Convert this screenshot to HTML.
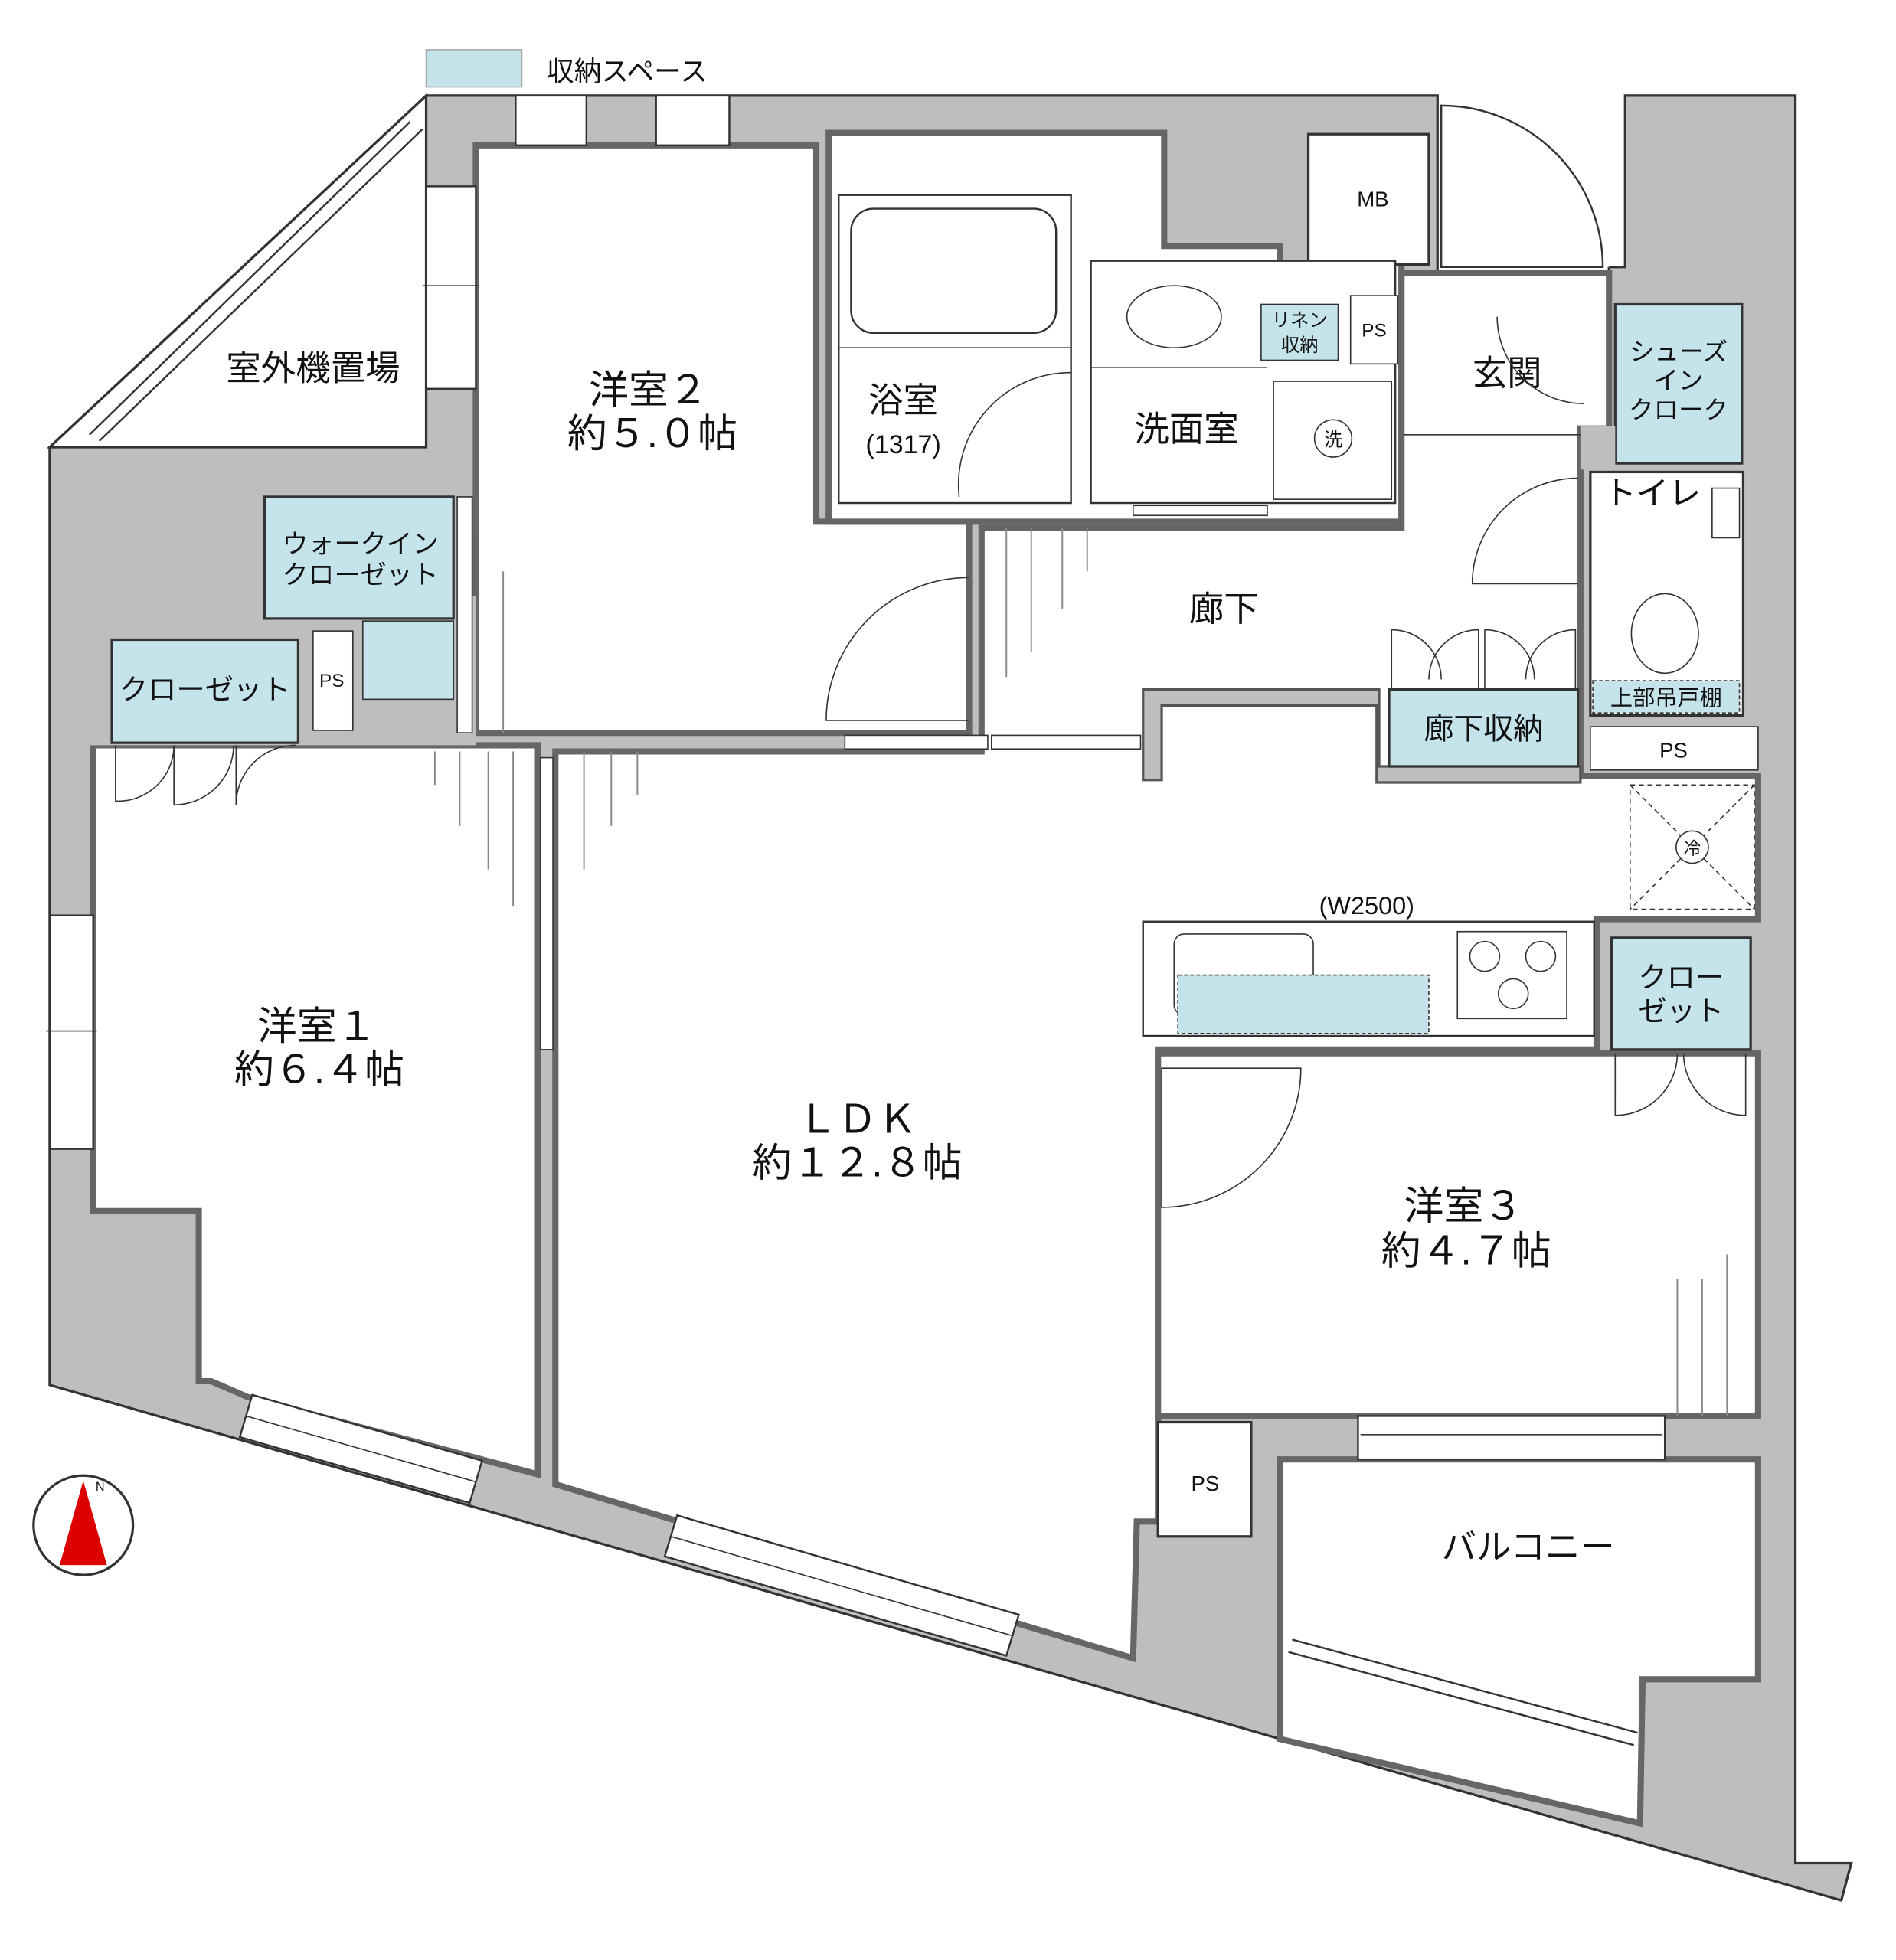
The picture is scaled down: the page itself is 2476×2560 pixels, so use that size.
<!DOCTYPE html>
<html><head><meta charset="utf-8"><style>
html,body{margin:0;padding:0;background:#fff}
svg{display:block}
text{font-family:"Liberation Sans","Noto Sans CJK JP",sans-serif;fill:#111}
</style></head><body>
<svg width="2476" height="2560" viewBox="0 0 1526 1578" preserveAspectRatio="none" xmlns="http://www.w3.org/2000/svg">
<rect width="1526" height="1578" fill="#fff"/>
<rect x="343" y="40" width="77" height="30" fill="#c5e3ea" stroke="#aaa"/>
<text x="440" y="65" font-size="22">収納スペース</text>

<polygon points="343,77 1157,77 1157,240 1295,240 1295,215 1308,215 1308,77 1445,77 1445,1500 1490,1500 1482,1530 40,1115 40,360 343,77" fill="#bebebe" stroke="#333" stroke-width="2"/>
<polygon points="40,360 343,77 343,360" fill="#fff" stroke="#333" stroke-width="2"/>
<line x1="72" y1="350" x2="330" y2="98" stroke="#333" stroke-width="1.5"/>
<line x1="80" y1="355" x2="340" y2="104" stroke="#333" stroke-width="1.5"/>
<text x="252" y="306" font-size="28" text-anchor="middle">室外機置場</text>

<g stroke="#666" stroke-width="5" fill="#fff">
<polygon points="383,117 657,117 657,420 780,420 780,590 383,590"/>
<polygon points="667,107 937,107 937,198 1030,198 1030,212 1128,212 1128,420 667,420"/>
<polygon points="790,425 1128,425 1128,220 1295,220 1295,345 1272,345 1272,625 1415,625 1415,740 1285,740 1285,845 932,845 932,1225 915,1225 912,1335 447,1195 447,605 790,605"/>
<polygon points="75,600 433,600 433,1187 200,1125 170,1112 160,1112 160,975 75,975"/>
<rect x="932" y="848" width="483" height="292"/>
<polygon points="1030,1175 1415,1175 1415,1352 1322,1352 1320,1468 1030,1400"/>
</g>
<!-- hall notch walls -->
<polygon points="920,555 1110,555 1110,617 1272,617 1272,630 1108,630 1108,568 935,568 935,628 920,628" fill="#bebebe" stroke="#555" stroke-width="2"/>
<rect x="1160" y="80" width="135" height="135" fill="#fff"/>
<rect x="1053" y="108" width="97" height="105" fill="#fff" stroke="#333" stroke-width="2"/>
<text x="1105" y="166" font-size="17" text-anchor="middle">MB</text>
<path d="M1160,215 L1160,85 A130,130 0 0 1 1290,215 Z" fill="none" stroke="#333" stroke-width="1.5"/>

<rect x="675" y="157" width="187" height="248" fill="#fff" stroke="#333" stroke-width="1.5"/>
<rect x="685" y="168" width="165" height="100" rx="18" fill="none" stroke="#333" stroke-width="1.5"/>
<line x1="675" y1="280" x2="862" y2="280" stroke="#333"/>
<path d="M862,300 A90,90 0 0 0 772,400" fill="none" stroke="#333"/>
<text x="727" y="332" font-size="28" text-anchor="middle">浴室</text>
<text x="727" y="365" font-size="21" text-anchor="middle">(1317)</text>
<rect x="878" y="210" width="245" height="195" fill="#fff" stroke="#333" stroke-width="1.5"/>
<line x1="878" y1="296" x2="1020" y2="296" stroke="#333"/>
<ellipse cx="945" cy="255" rx="38" ry="25" fill="none" stroke="#333"/>
<rect x="1015" y="245" width="62" height="45" fill="#c5e3ea" stroke="#333"/>
<text x="1046" y="263" font-size="15" text-anchor="middle">リネン</text>
<text x="1046" y="283" font-size="15" text-anchor="middle">収納</text>
<rect x="1087" y="238" width="38" height="55" fill="#fff" stroke="#333"/>
<text x="1106" y="271" font-size="15" text-anchor="middle">PS</text>
<rect x="1025" y="307" width="95" height="95" fill="#fff" stroke="#333"/>
<circle cx="1073" cy="353" r="15" fill="none" stroke="#333"/>
<text x="1073" y="359" font-size="15" text-anchor="middle">洗</text>
<text x="955" y="355" font-size="28" text-anchor="middle">洗面室</text>
<rect x="912" y="407" width="108" height="8" fill="#fff" stroke="#333"/>

<text x="1213" y="310" font-size="28" text-anchor="middle">玄関</text>
<line x1="1130" y1="350" x2="1272" y2="350" stroke="#333"/>
<path d="M1205,255 A70,70 0 0 0 1275,325" fill="none" stroke="#333"/>
<rect x="1300" y="245" width="102" height="128" fill="#c5e3ea" stroke="#333" stroke-width="2"/>
<text x="1351" y="290" font-size="20" text-anchor="middle">シューズ</text>
<text x="1351" y="313" font-size="20" text-anchor="middle">イン</text>
<text x="1351" y="337" font-size="20" text-anchor="middle">クローク</text>
<rect x="1272" y="343" width="28" height="35" fill="#bebebe"/>
<rect x="1280" y="380" width="123" height="196" fill="#fff" stroke="#333" stroke-width="2"/>
<text x="1330" y="406" font-size="26" text-anchor="middle">トイレ</text>
<rect x="1378" y="393" width="22" height="40" fill="none" stroke="#333"/>
<ellipse cx="1340" cy="510" rx="27" ry="32" fill="none" stroke="#333"/>
<rect x="1282" y="548" width="118" height="26" fill="#c5e3ea" stroke="#333" stroke-dasharray="3,2"/>
<text x="1341" y="568" font-size="18" text-anchor="middle">上部吊戸棚</text>
<path d="M1270,385 A85,85 0 0 0 1185,470 L1270,470" fill="none" stroke="#333"/>
<rect x="1280" y="585" width="135" height="35" fill="#fff" stroke="#333"/>
<text x="1347" y="610" font-size="17" text-anchor="middle">PS</text>
<text x="985" y="500" font-size="28" text-anchor="middle">廊下</text>
<rect x="1118" y="555" width="152" height="62" fill="#c5e3ea" stroke="#333" stroke-width="2"/>
<text x="1194" y="595" font-size="24" text-anchor="middle">廊下収納</text>
<path d="M1120,555 L1120,507 A40,40 0 0 1 1160,547 M1190,555 L1190,507 A40,40 0 0 0 1150,547 M1195,555 L1195,507 A40,40 0 0 1 1235,547 M1268,555 L1268,507 A40,40 0 0 0 1228,547" fill="none" stroke="#333"/>
<path d="M780,465 A115,115 0 0 0 665,580 L780,580" fill="none" stroke="#333"/>
<g stroke="#888" stroke-width="1.2">
<line x1="810" y1="425" x2="810" y2="545"/><line x1="830" y1="425" x2="830" y2="525"/><line x1="855" y1="425" x2="855" y2="490"/><line x1="875" y1="425" x2="875" y2="460"/>
<line x1="405" y1="460" x2="405" y2="590"/><line x1="380" y1="430" x2="380" y2="590"/>
<line x1="350" y1="605" x2="350" y2="632"/><line x1="370" y1="605" x2="370" y2="665"/><line x1="393" y1="605" x2="393" y2="700"/><line x1="413" y1="605" x2="413" y2="730"/>
<line x1="470" y1="605" x2="470" y2="700"/><line x1="492" y1="605" x2="492" y2="665"/><line x1="513" y1="605" x2="513" y2="640"/>
<line x1="1350" y1="1030" x2="1350" y2="1140"/><line x1="1370" y1="1030" x2="1370" y2="1140"/><line x1="1390" y1="1010" x2="1390" y2="1140"/>
</g>
<rect x="680" y="592" width="115" height="11" fill="#fff" stroke="#333"/>
<rect x="798" y="592" width="120" height="11" fill="#fff" stroke="#333"/>
<rect x="435" y="610" width="10" height="235" fill="#fff" stroke="#333"/>

<rect x="68" y="480" width="315" height="120" fill="#bebebe"/>
<rect x="213" y="400" width="152" height="98" fill="#c5e3ea" stroke="#333" stroke-width="2"/>
<text x="290" y="445" font-size="21" text-anchor="middle">ウォークイン</text>
<text x="290" y="470" font-size="21" text-anchor="middle">クローゼット</text>
<rect x="292" y="500" width="73" height="63" fill="#c5e3ea" stroke="#333"/>
<rect x="368" y="400" width="12" height="190" fill="#fff" stroke="#333"/>
<rect x="252" y="508" width="32" height="80" fill="#fff" stroke="#333"/>
<text x="267" y="553" font-size="15" text-anchor="middle">PS</text>
<rect x="90" y="515" width="150" height="83" fill="#c5e3ea" stroke="#333" stroke-width="2"/>
<text x="165" y="563" font-size="23" text-anchor="middle">クローゼット</text>
<path d="M93,600 L93,645 A45,45 0 0 0 140,600 M190,600 L190,648 A48,48 0 0 1 238,600 M140,600 L140,648 A48,48 0 0 0 188,600" fill="none" stroke="#333"/>

<g fill="#fff" stroke="#333" stroke-width="1.5">
<rect x="415" y="77" width="57" height="40"/><rect x="528" y="77" width="59" height="40"/>
<rect x="343" y="150" width="40" height="163"/>
<rect x="40" y="737" width="35" height="188"/>
<rect x="1093" y="1140" width="247" height="35"/>
<polygon points="203,1123 388,1176 378,1210 193,1157"/>
<polygon points="545,1220 820,1300 810,1333 535,1253"/>
</g>
<line x1="340" y1="230" x2="386" y2="230" stroke="#333"/>
<line x1="37" y1="830" x2="78" y2="830" stroke="#333"/>
<line x1="1095" y1="1155" x2="1338" y2="1155" stroke="#333"/>
<line x1="198" y1="1140" x2="383" y2="1193" stroke="#333"/>
<line x1="540" y1="1237" x2="815" y2="1317" stroke="#333"/>

<rect x="920" y="742" width="363" height="92" fill="#fff" stroke="#333" stroke-width="1.5"/>
<text x="1100" y="736" font-size="20" text-anchor="middle">(W2500)</text>
<rect x="945" y="752" width="112" height="65" rx="8" fill="none" stroke="#333"/>
<rect x="948" y="785" width="202" height="47" fill="#c5e3ea" stroke="#333" stroke-dasharray="3,2"/>
<rect x="1173" y="750" width="88" height="70" fill="#fff" stroke="#333"/>
<circle cx="1195" cy="770" r="12" fill="none" stroke="#333"/><circle cx="1240" cy="770" r="12" fill="none" stroke="#333"/><circle cx="1218" cy="800" r="12" fill="none" stroke="#333"/>
<rect x="1297" y="755" width="112" height="90" fill="#c5e3ea" stroke="#333" stroke-width="2"/>
<text x="1353" y="795" font-size="23" text-anchor="middle">クロー</text>
<text x="1353" y="822" font-size="23" text-anchor="middle">ゼット</text>
<path d="M1300,848 L1300,898 A50,50 0 0 0 1350,848 M1405,848 L1405,898 A50,50 0 0 1 1355,848" fill="none" stroke="#333"/>
<rect x="1312" y="632" width="100" height="100" fill="#fff" stroke="#333" stroke-dasharray="4,3"/>
<line x1="1312" y1="632" x2="1412" y2="732" stroke="#333" stroke-dasharray="4,3"/>
<line x1="1412" y1="632" x2="1312" y2="732" stroke="#333" stroke-dasharray="4,3"/>
<circle cx="1362" cy="682" r="13" fill="#fff" stroke="#333"/>
<text x="1362" y="688" font-size="14" text-anchor="middle">冷</text>
<path d="M935,860 L1047,860 A112,112 0 0 1 935,972 Z" fill="none" stroke="#333"/>
<rect x="932" y="1145" width="75" height="92" fill="#fff" stroke="#333" stroke-width="2"/>
<text x="970" y="1200" font-size="17" text-anchor="middle">PS</text>
<line x1="1040" y1="1320" x2="1318" y2="1395" stroke="#333" stroke-width="1.5"/>
<line x1="1037" y1="1330" x2="1315" y2="1405" stroke="#333" stroke-width="1.5"/>

<g font-size="32" text-anchor="middle">
<text x="522" y="325">洋室２</text><text x="525" y="360">約５.０帖</text>
<text x="255" y="837">洋室１</text><text x="257" y="872">約６.４帖</text>
<text x="690" y="912">ＬＤＫ</text><text x="690" y="947">約１２.８帖</text>
<text x="1178" y="982">洋室３</text><text x="1180" y="1018">約４.７帖</text>
<text x="1230" y="1255" font-size="28">バルコニー</text>
</g>
<circle cx="67" cy="1228" r="40" fill="#fff" stroke="#333" stroke-width="2"/>
<polygon points="67,1192 48,1260 86,1260" fill="#d00"/>
<text x="77" y="1200" font-size="10">N</text>
</svg>
</body></html>
